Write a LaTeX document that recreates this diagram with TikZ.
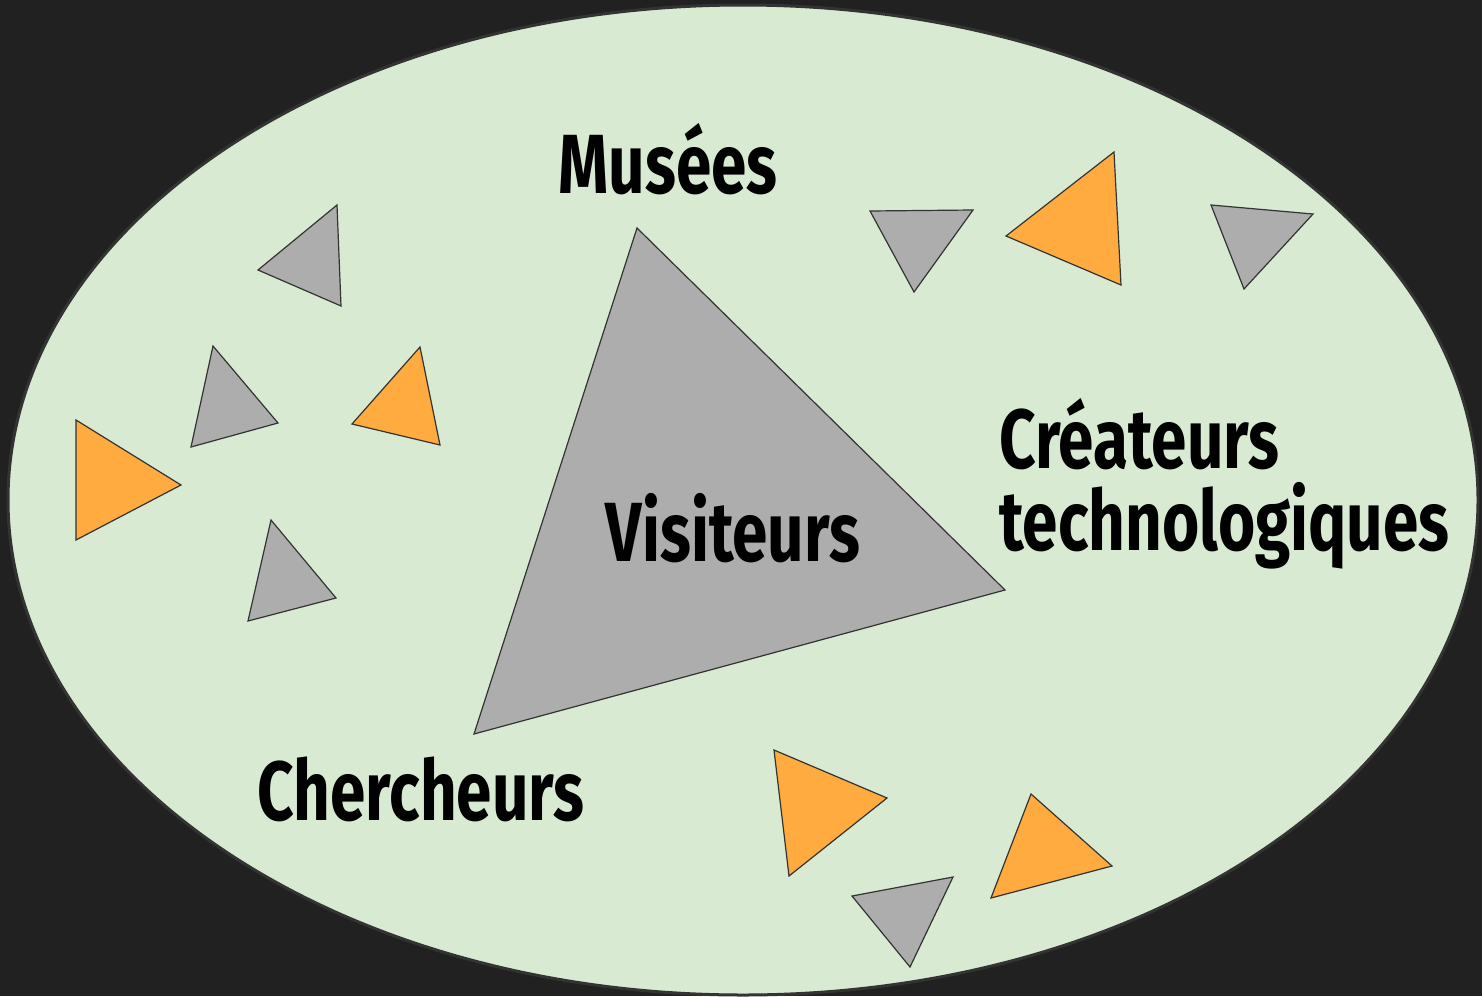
\documentclass[tikz,border=0pt]{standalone}
\usepackage{fontspec}
\usetikzlibrary{shapes.geometric}
\setmainfont{Fira Sans}[FakeStretch=0.76]
\definecolor{bg}{HTML}{212121}
\definecolor{ell}{HTML}{D9EAD3}
\definecolor{tgray}{HTML}{ADADAD}
\definecolor{torange}{HTML}{FFAB40}
\definecolor{edge}{HTML}{333333}
\tikzset{
  gtri/.style={fill=tgray,draw=edge,line width=1.2pt,line join=miter},
  otri/.style={fill=torange,draw=edge,line width=1.2pt,line join=miter},
  lbl/.style={font=\bfseries\fontsize{84}{82}\selectfont,text=black,inner sep=0pt},
}
\begin{document}
\begin{tikzpicture}[x=1pt,y=-1pt]
\fill[bg] (0,0) rectangle (1482,996);
\useasboundingbox (0,0) rectangle (1482,996);
\begin{scope}
\clip (0,0) rectangle (1482,996);
\node[ellipse,draw=edge,line width=3pt,fill=ell,minimum width=1470pt,minimum height=990pt,inner sep=0pt] (ell) at (743,500) {};
\end{scope}
% big triangle
\draw[gtri] (637,228) -- (1005,590) -- (474,734) -- cycle;
% small gray
\draw[gtri] (337,205) -- (341,306) -- (258,270) -- cycle;
\draw[gtri] (213,346) -- (278,423) -- (191,447) -- cycle;
\draw[gtri] (271,520) -- (336,598) -- (248,621) -- cycle;
\draw[gtri] (870,211) -- (973,210) -- (914,292) -- cycle;
\draw[gtri] (1211,205) -- (1313,214) -- (1244,289) -- cycle;
\draw[gtri] (852,896) -- (953,877) -- (910,967) -- cycle;
% orange
\draw[otri] (420,347) -- (440,445) -- (352,424) -- cycle;
\draw[otri] (76,420) -- (181,485) -- (76,540) -- cycle;
\draw[otri] (1114,152) -- (1121,285) -- (1006,236) -- cycle;
\draw[otri] (774,750) -- (887,798) -- (789,876) -- cycle;
\draw[otri] (1031,794) -- (1112,866) -- (991,898) -- cycle;
% labels
\node[lbl] (musees) at (668,159) {Musées};
\node[lbl] (visiteurs) at (733,528) {Visiteurs};
\node[lbl,anchor=north west,align=left] (createurs) at (999,398) {Créateurs\\technologiques};
\node[lbl] (chercheurs) at (421,789) {Chercheurs};
\end{tikzpicture}
\end{document}
